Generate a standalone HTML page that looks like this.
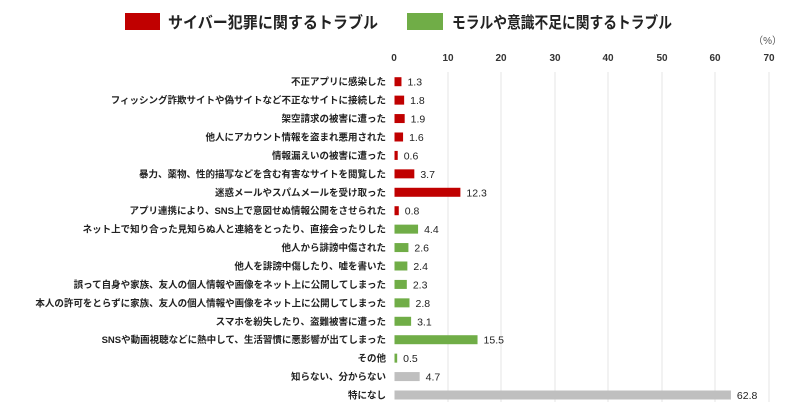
<!DOCTYPE html>
<html><head><meta charset="utf-8"><style>
body{margin:0;width:800px;height:409px;background:#fff;overflow:hidden;font-family:"Liberation Sans","Noto Sans CJK JP",sans-serif;}
</style></head><body>
<svg width="800" height="409" xmlns="http://www.w3.org/2000/svg" font-family="Liberation Sans, Noto Sans CJK JP, sans-serif">
<rect x="125" y="13" width="35" height="17" fill="#C00000"/>
<text x="168" y="28" font-size="16" font-weight="bold" fill="#222" textLength="210" lengthAdjust="spacingAndGlyphs">サイバー犯罪に関するトラブル</text>
<rect x="407" y="13" width="36" height="17" fill="#70AD47"/>
<text x="452" y="28" font-size="16" font-weight="bold" fill="#222" textLength="220" lengthAdjust="spacingAndGlyphs">モラルや意識不足に関するトラブル</text>
<text x="782" y="44" font-size="10" fill="#555" text-anchor="end">（%）</text>
<g font-size="10" fill="#333" text-anchor="middle" font-weight="bold">
<text x="394" y="61">0</text><text x="448" y="61">10</text><text x="501" y="61">20</text><text x="555" y="61">30</text><text x="608" y="61">40</text><text x="662" y="61">50</text><text x="715" y="61">60</text><text x="769" y="61">70</text>
</g>
<g stroke="#e4e4e4" stroke-width="1">
<line x1="448" y1="72" x2="448" y2="402"/><line x1="501" y1="72" x2="501" y2="402"/><line x1="555" y1="72" x2="555" y2="402"/><line x1="608" y1="72" x2="608" y2="402"/><line x1="662" y1="72" x2="662" y2="402"/><line x1="715" y1="72" x2="715" y2="402"/><line x1="769" y1="72" x2="769" y2="402"/>
</g>
<g id="rows" fill="#222"></g>
</svg>
<script>
var d=[["不正アプリに感染した",1.3,"#C00000"],["フィッシング詐欺サイトや偽サイトなど不正なサイトに接続した",1.8,"#C00000"],["架空請求の被害に遭った",1.9,"#C00000"],["他人にアカウント情報を盗まれ悪用された",1.6,"#C00000"],["情報漏えいの被害に遭った",0.6,"#C00000"],["暴力、薬物、性的描写などを含む有害なサイトを閲覧した",3.7,"#C00000"],["迷惑メールやスパムメールを受け取った",12.3,"#C00000"],["アプリ連携により、SNS上で意図せぬ情報公開をさせられた",0.8,"#C00000"],["ネット上で知り合った見知らぬ人と連絡をとったり、直接会ったりした",4.4,"#70AD47"],["他人から誹謗中傷された",2.6,"#70AD47"],["他人を誹謗中傷したり、嘘を書いた",2.4,"#70AD47"],["誤って自身や家族、友人の個人情報や画像をネット上に公開してしまった",2.3,"#70AD47"],["本人の許可をとらずに家族、友人の個人情報や画像をネット上に公開してしまった",2.8,"#70AD47"],["スマホを紛失したり、盗難被害に遭った",3.1,"#70AD47"],["SNSや動画視聴などに熱中して、生活習慣に悪影響が出てしまった",15.5,"#70AD47"],["その他",0.5,"#70AD47"],["知らない、分からない",4.7,"#BFBFBF"],["特になし",62.8,"#BFBFBF"]];
var g=document.getElementById('rows'),s='',k=5.357;
d.forEach(function(r,i){var y=81.7+i*(395-81.7)/17;
var w=r[1]*k;
s+='<text x="386" y="'+(y+3.5)+'" text-anchor="end" font-size="9.5" font-weight="bold">'+r[0]+'</text>';
s+='<rect x="394.5" y="'+(y-4.5)+'" width="'+w+'" height="9" fill="'+r[2]+'"/>';
s+='<text x="'+(394.5+w+6)+'" y="'+(y+4)+'" font-size="10.5">'+r[1].toFixed(1)+'</text>';});
g.innerHTML=s;
</script>
</body></html>
